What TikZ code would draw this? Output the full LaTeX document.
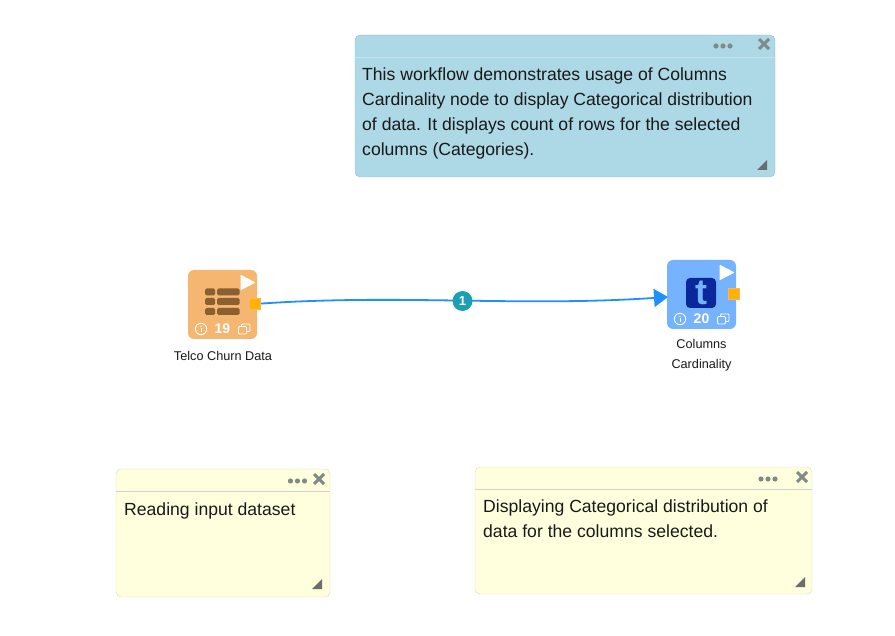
\documentclass[tikz,border=0pt]{standalone}
\usepackage{fontspec}
\setmainfont{Liberation Sans}
\usetikzlibrary{arrows.meta}
\definecolor{noteblue}{HTML}{ADD8E6}
\definecolor{noteyellow}{HTML}{FFFFDD}
\definecolor{taskorange}{HTML}{F4B670}
\definecolor{taskblue}{HTML}{75B3FF}
\definecolor{portyellow}{HTML}{FFB300}
\definecolor{linkblue}{HTML}{2090FF}
\definecolor{badgeteal}{HTML}{1A9FB5}
\definecolor{tablebrown}{HTML}{8A6030}
\definecolor{tokennavy}{HTML}{0A289B}
\definecolor{handlegrey}{HTML}{808A88}
\tikzset{
  note/.style={draw=#1!70!gray, fill=#1, rounded corners=5pt, anchor=north west, inner sep=0pt, outer sep=0pt},
  notetext/.style={anchor=north west, align=left, inner sep=0pt, font=\fontsize{17.6}{24.7}\selectfont, text=black!90},
  task/.style={fill=#1, rounded corners=6pt, minimum width=69pt, minimum height=69pt, inner sep=0pt, outer sep=0pt},
  port/.style={draw=orange!60, fill=portyellow, minimum size=11pt, inner sep=0pt, line width=.8pt},
  tasklabel/.style={align=center, inner sep=0pt, font=\fontsize{12.7}{20}\selectfont, text=black!90},
  tasknum/.style={inner sep=0pt, text=white, font=\fontsize{14}{14}\selectfont\bfseries},
  badge/.style={circle, fill=badgeteal, text=white, minimum size=20pt, inner sep=0pt, font=\fontsize{13}{13}\selectfont\bfseries},
  closex/.style={draw=handlegrey, line width=3pt},
  play/.style={fill=white, draw=white, line width=1pt, line join=round},
  glyph/.style={draw=white, line width=.9pt},
}
\begin{document}
\begin{tikzpicture}[x=1pt, y=-1pt]
    \useasboundingbox (0,0) rectangle (895,636);

    % sticky notes
    \node[note=noteblue, minimum width=420pt, minimum height=142pt] (top) at (355,35) {};
    \node[note=noteyellow, minimum width=214pt, minimum height=128pt] (left) at (116,469) {};
    \node[note=noteyellow, minimum width=337pt, minimum height=127pt] (right) at (475,467) {};

    \draw[noteblue!70!white] (355,57) -- (775,57);
    \draw[black!18] (116,491) -- (330,491);
    \draw[black!18] (475,489) -- (812,489);

    \node[notetext] (toptext) at (362,68) {This workflow demonstrates usage of Columns\\
        Cardinality node to display Categorical distribution\\
        of data. It displays count of rows for the selected\\
        columns (Categories).};
    \node[notetext] (lefttext) at (124,503) {Reading input dataset};
    \node[notetext] (righttext) at (483,500) {Displaying Categorical distribution of\\
        data for the columns selected.};

    % note controls
    \foreach \x/\y/\dx/\hx/\hy in {764/44/723/767/170, 319/479/297.5/322/589, 802/477/768/805/587} {
        \draw[closex] (\x-5,\y-5) -- (\x+5,\y+5);
        \draw[closex] (\x-5,\y+5) -- (\x+5,\y-5);
        \foreach \d in {-7,0,7}
            \fill[handlegrey] (\dx+\d,\y+2) circle (2.6pt);
        \fill[handlegrey!80!black] (\hx,\hy-10) -- (\hx-10,\hy) -- (\hx,\hy) -- cycle;
    }

    % tasks
    \node[task=taskorange] (data) at (222.5,304.5) {};
    \node[task=taskblue] (card) at (701.5,294.5) {};
    \node[port] (dataport) at (255,304) {};
    \node[port] (cardport) at (734,294) {};
    \node[tasklabel] (datalabel) at (223,356) {Telco Churn Data};
    \node[tasklabel] (cardlabel) at (701.5,355) {Columns\\Cardinality};

    % table icon
    \foreach \y in {292,301.5,311.5} {
        \fill[tablebrown, rounded corners=1.5pt] (205,\y-3.5) rectangle (215,\y+3.5);
        \fill[tablebrown, rounded corners=1.5pt] (217,\y-3.5) rectangle (239.5,\y+3.5);
    }

    % token icon
    \node[fill=tokennavy, rounded corners=4pt, minimum size=30pt, inner sep=0pt] (token) at (701,293) {};
    \node[inner sep=0pt, text=taskblue, font=\fontsize{36}{36}\selectfont\bfseries] (tokent) at (701,293) {t};

    % task footers
    \draw[play] (241,275.5) -- (254.5,282.5) -- (241,289.5) -- cycle;
    \draw[play] (720,265.5) -- (733.5,272.5) -- (720,279.5) -- cycle;
    \foreach \x/\y/\n in {201/329/19, 680/319/20} {
        \draw[glyph] (\x,\y) circle (5.7pt);
        \fill[white] (\x-.5,\y-.8) rectangle (\x+.5,\y+3);
        \fill[white] (\x,\y-2.6) circle (.7pt);
        \draw[glyph, rounded corners=1pt] (\x+37.5,\y-2.5) rectangle (\x+45.5,\y+5);
        \draw[glyph, rounded corners=1pt] (\x+40.5,\y-2.5) -- (\x+40.5,\y-5) -- (\x+49,\y-5) -- (\x+49,\y+2.5) -- (\x+45.5,\y+2.5);
        \node[tasknum] at (\x+21.5,\y) {\n};
    }

    % connector
    \draw[linkblue, line width=1.8pt, -{Triangle[length=14pt, width=18pt]}]
        (dataport) .. controls (400,294) and (520,307) .. ([xshift=1pt,yshift=-2.5pt]card.west);
    \node[badge] (link) at (462.5,301) {1};
\end{tikzpicture}
\end{document}
